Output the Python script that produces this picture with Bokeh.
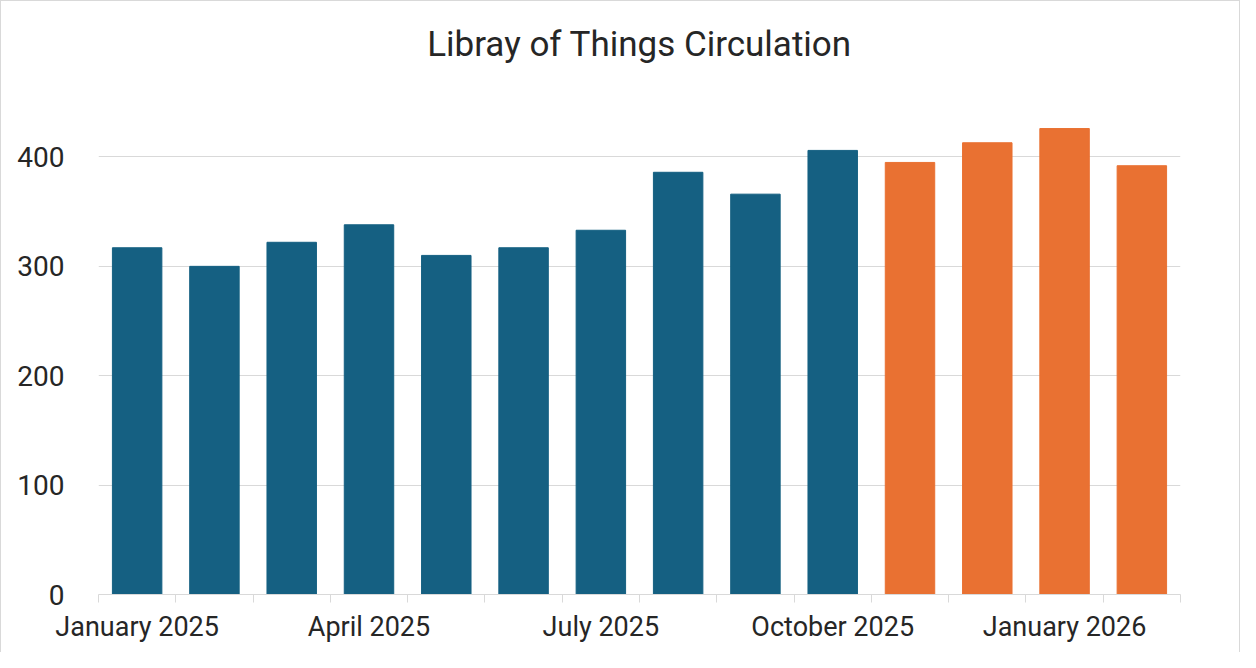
from bokeh.plotting import figure
from bokeh.models import ColumnDataSource, FixedTicker, Label
from bokeh.embed import file_html
from bokeh.resources import INLINE

months = ["January 2025", "February 2025", "March 2025", "April 2025", "May 2025", "June 2025",
          "July 2025", "August 2025", "September 2025", "October 2025", "November 2025",
          "December 2025", "January 2026", "February 2026"]
values = [317, 300, 322, 338, 310, 317, 333, 386, 366, 406, 395, 413, 426, 392]
series_colors = ["#156082"] * 10 + ["#E97132"] * 4
label_months = ["January 2025", "April 2025", "July 2025", "October 2025", "January 2026"]
y_ticks = [0, 100, 200, 300, 400]
title_text = "Libray of Things Circulation"

xpos = [i + 0.5 for i in range(len(months))]
src = ColumnDataSource(dict(x=xpos, top=values, color=series_colors, month=months))

FONT = "Roboto"
TXT = "#262626"
Y_MAX = 533  # extra headroom so the title sits inside the drawing area

p = figure(width=1240, height=652, output_backend="svg", toolbar_location=None,
           x_range=(0, len(months)), y_range=(0, Y_MAX),
           min_border_left=97, min_border_right=61, min_border_top=10, min_border_bottom=59)
p.styles = {"border-top": "1px solid #d9d9d9", "border-left": "1px solid #d9d9d9",
            "border-right": "1px solid #d9d9d9"}

p.vbar(x="x", top="top", width=0.64, color="color", source=src)

# chart title
p.add_layout(Label(x=len(months) / 2, y=Y_MAX, y_offset=-33, text=title_text,
                   text_align="center", text_baseline="middle", text_font=FONT,
                   text_font_size="35px", text_color=TXT))

# y axis
p.yaxis.ticker = FixedTicker(ticks=y_ticks)
p.yaxis.axis_line_color = None
p.yaxis.major_tick_line_color = None
p.yaxis.minor_tick_line_color = None
p.yaxis.major_label_text_font = FONT
p.yaxis.major_label_text_font_size = "28px"
p.yaxis.major_label_text_color = TXT
p.yaxis.major_label_standoff = 28

# x axis: boundary ticks as minor ticks, labels at selected months
label_pos = [months.index(m) + 0.5 for m in label_months]
p.xaxis.ticker = FixedTicker(ticks=label_pos, minor_ticks=list(range(len(months) + 1)))
p.xaxis.major_label_overrides = {lp: m for lp, m in zip(label_pos, label_months)}
p.xaxis.major_tick_line_color = None
p.xaxis.minor_tick_line_color = "#d9d9d9"
p.xaxis.minor_tick_in = 0
p.xaxis.minor_tick_out = 8
p.xaxis.axis_line_color = "#d9d9d9"
p.xaxis.major_label_text_font = FONT
p.xaxis.major_label_text_font_size = "27px"
p.xaxis.major_label_text_color = TXT
p.xaxis.major_label_standoff = 8

p.xgrid.grid_line_color = None
p.ygrid.grid_line_color = "#d9d9d9"
p.ygrid.ticker = FixedTicker(ticks=y_ticks)
p.outline_line_color = None

open("out.html", "w").write(file_html(p, INLINE))
